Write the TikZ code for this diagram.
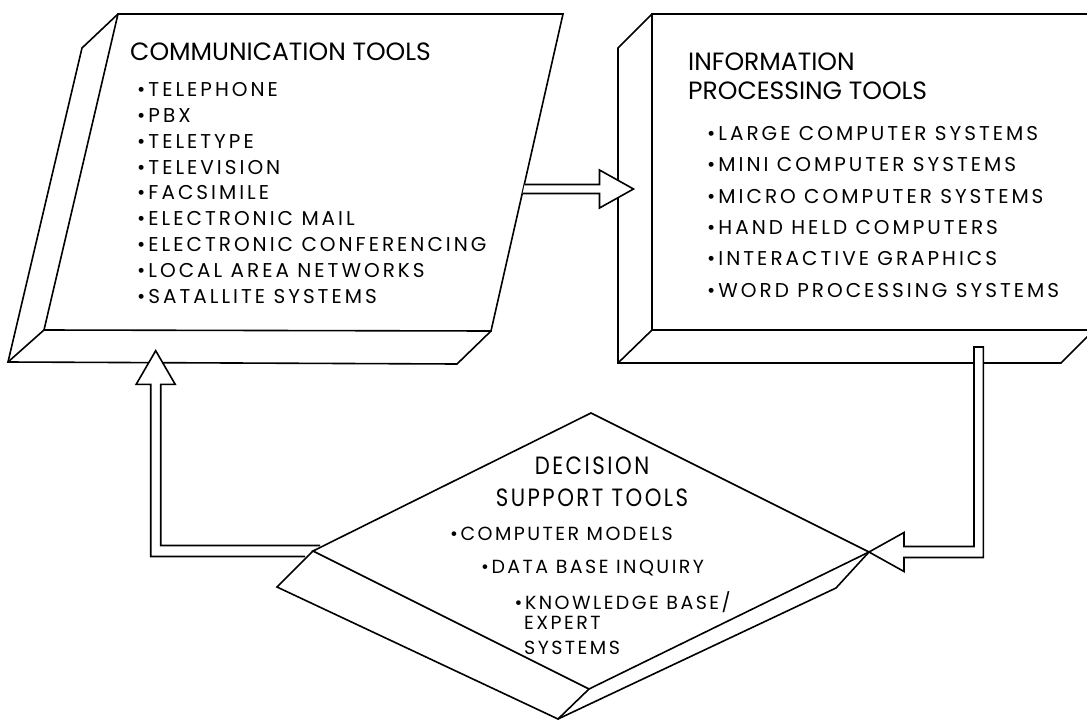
\documentclass[tikz,border=0pt]{standalone}
\usepackage{fontspec}
\setmainfont{Poppins}
\newfontfamily\listfont[LetterSpace=15]{Poppins}
\newfontfamily\dssfont[FakeStretch=0.85,LetterSpace=10]{Poppins}
\newfontfamily\dssitemfont[LetterSpace=13]{Poppins}
\usetikzlibrary{calc}

\tikzset{
  outline/.style={line width=1.6pt, line join=miter},
  flow/.style={draw, fill=white, line width=1.6pt, line join=miter},
  heading/.style={anchor=north west, inner sep=0pt, align=left, font=\fontsize{25}{29}\selectfont},
  itemlist/.style={anchor=north west, inner sep=0pt, align=left},
  dssitem/.style={anchor=north west, inner sep=0pt, font=\dssitemfont\fontsize{19}{25}\selectfont},
}

\begin{document}
\begin{tikzpicture}[x=1pt,y=-1pt]
\useasboundingbox (0,0) rectangle (1087,720);
\clip (0,0) rectangle (1087,720);

% Communication tools box
\coordinate (commTL) at (118,14);
\coordinate (commTR) at (563,14);
\coordinate (commBR) at (491,331);
\coordinate (commBL) at (44,330);
\draw[outline] (commTL) -- (commTR) -- (commBR) -- (commBL) -- cycle;
\draw[outline] (commTL) -- (82,48) -- (8,362) -- (457,364) -- (commBR);
\draw[outline] (8,362) -- (commBL);

% Information processing tools box
\coordinate (infoTL) at (652,14);
\coordinate (infoBL) at (652,330);
\draw[outline] (1095,14) -- (infoTL) -- (infoBL) -- (1095,330);
\draw[outline] (infoTL) -- (618,48) -- (618,363) -- (1061,363) -- (1094,330);
\draw[outline] (618,363) -- (infoBL);

% Decision support tools diamond
\coordinate (dssT) at (591,413);
\coordinate (dssR) at (869,552);
\coordinate (dssB) at (589,689);
\coordinate (dssL) at (313,551);

% Arrow ends
\coordinate (commout) at (523.6,189);
\coordinate (infoin) at (633.5,189);
\coordinate (infoout) at (978.7,347);
\coordinate (commin) at (155.7,350.7);

% Flow arrows
\filldraw[flow] ($(commout)+(1,-4.5)$) -- ($(infoin)+(-34,-4.5)$) -- ++(0,-14.5) -- (infoin)
  -- ($(infoin)+(-34,19)$) -- ++(0,-14.5) -- ($(commout)+(-1,4.5)$);
\filldraw[flow] ($(infoout)+(-4.7,0)$) -- ($(infoout |- dssR)+(-4.7,-5.5)$) -- ($(dssR)+(35,-5.5)$)
  -- ++(0,-14) -- (dssR) -- ($(dssR)+(35,19.5)$) -- ++(0,-14) -- ($(infoout |- dssR)+(4.7,5.5)$)
  -- ($(infoout)+(4.7,0)$) -- cycle;
\filldraw[flow] ($(dssL)+(-8,5.5)$) -- ($(commin |- dssL)+(-5,5.5)$) -- ($(commin)+(-5,33.6)$)
  -- ++(-14.5,0) -- (commin) -- ($(commin)+(19.5,33.6)$) -- ++(-14.5,0)
  -- ($(commin |- dssL)+(5,-5.5)$) -- ($(dssL)+(7,-5.5)$);

\draw[outline] (dssL) -- (dssT) -- (dssR) -- (dssB) -- cycle;
\draw[outline] (dssL) -- (277,587) -- (558,719) -- (836,588) -- (dssR);
\draw[outline] (558,719) -- (dssB);

% Texts
\node[heading] (commtitle) at (130,43) {COMMUNICATION TOOLS};
\node[itemlist, font=\listfont\fontsize{20}{25.9}\selectfont] (commlist) at (137,82)
  {\textbullet TELEPHONE\\ \textbullet PBX\\ \textbullet TELETYPE\\ \textbullet TELEVISION\\
   \textbullet FACSIMILE\\ \textbullet ELECTRONIC MAIL\\ \textbullet ELECTRONIC CONFERENCING\\
   \textbullet LOCAL AREA NETWORKS\\ \textbullet SATALLITE SYSTEMS};

\node[heading] (infotitle) at (688,53) {INFORMATION\\PROCESSING TOOLS};
\node[itemlist, font=\listfont\fontsize{20}{31.4}\selectfont] (infolist) at (707,126)
  {\textbullet LARGE COMPUTER SYSTEMS\\ \textbullet MINI COMPUTER SYSTEMS\\
   \textbullet MICRO COMPUTER SYSTEMS\\ \textbullet HAND HELD COMPUTERS\\
   \textbullet INTERACTIVE GRAPHICS\\ \textbullet WORD PROCESSING SYSTEMS};

\node[anchor=north, inner sep=0pt, align=center, font=\dssfont\fontsize{25}{32}\selectfont]
  (dsstitle) at (592,457) {DECISION\\SUPPORT TOOLS};
\node[dssitem] (dssA) at (450,527) {\textbullet COMPUTER MODELS};
\node[dssitem] (dssB) at (481,559.5) {\textbullet DATA BASE INQUIRY};
\node[dssitem] (dssC) at (514.5,591) {\textbullet KNOWLEDGE BASE/};
\node[dssitem] (dssD) at (524,616) {EXPERT};
\node[dssitem] (dssE) at (524,641) {SYSTEMS};

\end{tikzpicture}
\end{document}
